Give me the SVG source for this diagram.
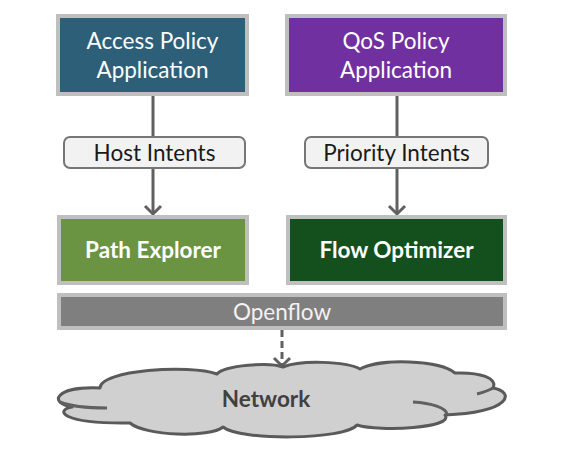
<svg xmlns="http://www.w3.org/2000/svg" width="565" height="460" viewBox="0 0 565 460">
<style>
.box{stroke:#BFBFBF;stroke-width:4}
.lbl{fill:#F2F2F2;stroke:#767676;stroke-width:2}
.t{font-family:Lato,"Liberation Sans",sans-serif;text-anchor:middle;font-size:22.5px}
.w{fill:#FFFFFF}
.b{font-weight:bold;fill:#FFFFFF}
.d{fill:#1A1A1A}
.ln{stroke:#606060;stroke-width:3;fill:none}
</style>
<defs>
<marker id="arr" markerWidth="12" markerHeight="12" viewBox="0 0 12 12" refX="10" refY="6" orient="auto" markerUnits="userSpaceOnUse" overflow="visible">
<path d="M2,-2 L10,6 L2,14" fill="none" stroke="#606060" stroke-width="3"/>
</marker>
</defs>
<g id="access-policy">
<rect class="box" x="58" y="16" width="189" height="78" fill="#2E5F78"/>
<text class="t w" x="152.5" y="49">Access Policy</text>
<text class="t w" x="152.5" y="78">Application</text>
</g>
<g id="qos-policy">
<rect class="box" x="287" y="16" width="218" height="78" fill="#7030A0"/>
<text class="t w" x="396" y="49">QoS Policy</text>
<text class="t w" x="396" y="78">Application</text>
</g>
<g id="connectors">
<line class="ln" x1="153" y1="96" x2="153" y2="136"/>
<line class="ln" x1="153" y1="169" x2="153" y2="214" marker-end="url(#arr)"/>
<line class="ln" x1="397" y1="96" x2="397" y2="136"/>
<line class="ln" x1="397" y1="169" x2="397" y2="214" marker-end="url(#arr)"/>
<line class="ln" x1="282" y1="330" x2="282" y2="366" stroke-dasharray="7,4" marker-end="url(#arr)"/>
</g>
<g id="host-intents">
<rect class="lbl" x="64" y="137" width="181" height="31" rx="6"/>
<text class="t d" x="154.5" y="161">Host Intents</text>
</g>
<g id="priority-intents">
<rect class="lbl" x="305" y="137" width="183" height="31" rx="6"/>
<text class="t d" x="396.5" y="161">Priority Intents</text>
</g>
<g id="path-explorer">
<rect class="box" x="59" y="217" width="188" height="66" fill="#6A9342"/>
<text class="t b" x="153" y="258">Path Explorer</text>
</g>
<g id="flow-optimizer">
<rect class="box" x="288" y="217" width="217" height="66" fill="#144F1E"/>
<text class="t b" x="396.5" y="258">Flow Optimizer</text>
</g>
<g id="openflow">
<rect class="box" x="59" y="295" width="446" height="33" fill="#7F7F7F"/>
<text class="t" x="282" y="320" fill="#F2F2F2">Openflow</text>
</g>
<g id="network">
<path d="M100,388 C100,370 190,364 217,374 C225,365 270,362 283,367 C300,360 345,361 360,369 C380,358 440,360 455,373 C480,372 498,378 493,388 C515,392 512,412 445,415 C455,428 380,432 357,425 C345,440 240,441 223,427 C210,438 145,436 130,423 C60,424 55,410 72,407 C48,403 55,386 100,388 Z" fill="#D0D0D0" stroke="#5A5A5A" stroke-width="3" stroke-linejoin="round"/>
<path d="M60,402 C72,407 90,408 107,408" class="ln" stroke="#5A5A5A"/>
<path d="M413,402 C432,403 446,408 447,414" class="ln" stroke="#5A5A5A"/>
<path d="M477,394 C484,392 490,390 493,388" class="ln" stroke="#5A5A5A"/>
<text class="t" x="266" y="407" font-weight="bold" fill="#404040">Network</text>
</g>
</svg>
